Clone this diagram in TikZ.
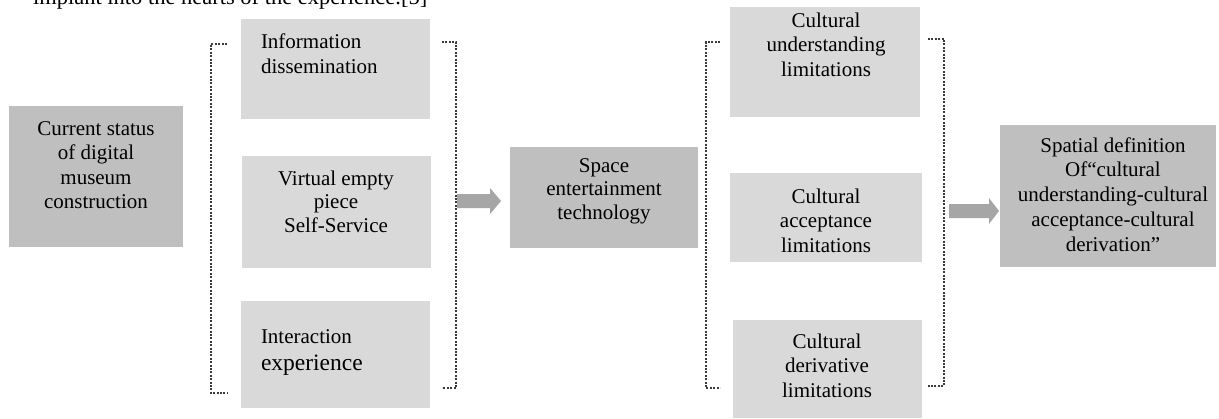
\documentclass[tikz,border=0pt]{standalone}
\usepackage{fontspec}
\setmainfont{Liberation Serif}
\definecolor{darkbox}{HTML}{BFBFBF}
\definecolor{lightbox}{HTML}{D9D9D9}
\definecolor{arrowgray}{HTML}{A6A6A6}
\definecolor{dotgray}{HTML}{3A3A3A}
\newcommand\mylines[2]{\begin{tabular}[t]{@{}#1@{}}#2\end{tabular}}
\tikzset{
  boxbase/.style={draw=none, inner sep=0pt, outer sep=0pt, anchor=north west},
  darkb/.style={boxbase, fill=darkbox},
  lightb/.style={boxbase, fill=lightbox},
  txt/.style={inner sep=0pt, outer sep=0pt, font=\fontsize{21}{24.5}\selectfont},
  brk/.style={draw=dotgray, line width=2.2pt, dash pattern=on 2pt off 1.4pt},
  blockarrow/.style={fill=arrowgray, draw=none},
}
\begin{document}
\begin{tikzpicture}[x=1pt,y=-1pt]
\clip (0,0) rectangle (1219,418);
\fill[white] (0,0) rectangle (1219,418);
% partial line of running text at the top
\node[txt, anchor=base west, font=\fontsize{22.5}{26}\selectfont] (toptext) at (33,4.5) {implant into the hearts of the experience.[5]};
% boxes
\node[darkb, minimum width=174pt, minimum height=141pt] (cur) at (9,106) {};
\node[lightb, minimum width=189pt, minimum height=100pt] (info) at (241,19) {};
\node[lightb, minimum width=189pt, minimum height=112pt] (virt) at (242,156) {};
\node[lightb, minimum width=189pt, minimum height=107pt] (inter) at (241,301) {};
\node[darkb, minimum width=188pt, minimum height=101pt] (space) at (510,147) {};
\node[lightb, minimum width=190pt, minimum height=110pt] (under) at (730,7) {};
\node[lightb, minimum width=192pt, minimum height=89pt] (accept) at (730,173) {};
\node[lightb, minimum width=189pt, minimum height=98pt] (deriv) at (733,320) {};
\node[darkb, minimum width=216pt, minimum height=142pt] (spat) at (1000,125) {};
% texts
\node[txt, anchor=base] (curT) at (96,135) {\mylines{c}{Current status\\of digital\\museum\\construction}};
\node[txt, anchor=base west, font=\fontsize{21}{25}\selectfont] (infoT) at (261,48) {\mylines{l}{Information\\dissemination}};
\node[txt, anchor=base, font=\fontsize{21}{23.5}\selectfont] (virtT) at (336,185) {\mylines{c}{Virtual empty\\piece\\Self-Service}};
\node[txt, anchor=base west] (interT1) at (261,343) {Interaction};
\node[txt, anchor=base west, font=\fontsize{23.5}{27}\selectfont] (interT2) at (261,370) {experience};
\node[txt, anchor=base, font=\fontsize{21}{23.5}\selectfont] (spaceT) at (604,172) {\mylines{c}{Space\\entertainment\\technology}};
\node[txt, anchor=base] (underT) at (826,27) {\mylines{c}{Cultural\\understanding\\limitations}};
\node[txt, anchor=base] (acceptT) at (826,203) {\mylines{c}{Cultural\\acceptance\\limitations}};
\node[txt, anchor=base] (derivT) at (827,348) {\mylines{c}{Cultural\\derivative\\limitations}};
\node[txt, anchor=base, font=\fontsize{21}{24.75}\selectfont] (spatT) at (1113,152) {\mylines{c}{Spatial definition\\Of“cultural\\understanding-cultural\\acceptance-cultural\\derivation”}};
% dotted brackets
\coordinate (b1a) at (227,44);
\coordinate (b1b) at (211,44);
\coordinate (b1c) at (211,393);
\coordinate (b1d) at (227,393);
\draw[brk] (b1a) -- (b1b) -- (b1c) -- (b1d);
\coordinate (b2a) at (442,42);
\coordinate (b2b) at (456,42);
\coordinate (b2c) at (456,388);
\coordinate (b2d) at (442,388);
\draw[brk] (b2a) -- (b2b) -- (b2c) -- (b2d);
\coordinate (b3a) at (720,42);
\coordinate (b3b) at (706,42);
\coordinate (b3c) at (706,388);
\coordinate (b3d) at (720,388);
\draw[brk] (b3a) -- (b3b) -- (b3c) -- (b3d);
\coordinate (b4a) at (928,39);
\coordinate (b4b) at (944,39);
\coordinate (b4c) at (944,386);
\coordinate (b4d) at (928,386);
\draw[brk] (b4a) -- (b4b) -- (b4c) -- (b4d);
% block arrows
\coordinate (a1) at (457,201);
\fill[blockarrow] (a1) ++(0,-7) -- ++(33,0) -- ++(0,-6) -- ++(11,13) -- ++(-11,13) -- ++(0,-6) -- ++(-33,0) -- cycle;
\coordinate (a2) at (949,211);
\fill[blockarrow] (a2) ++(0,-7) -- ++(40,0) -- ++(0,-6) -- ++(10,13) -- ++(-10,13) -- ++(0,-6) -- ++(-40,0) -- cycle;
\end{tikzpicture}
\end{document}
